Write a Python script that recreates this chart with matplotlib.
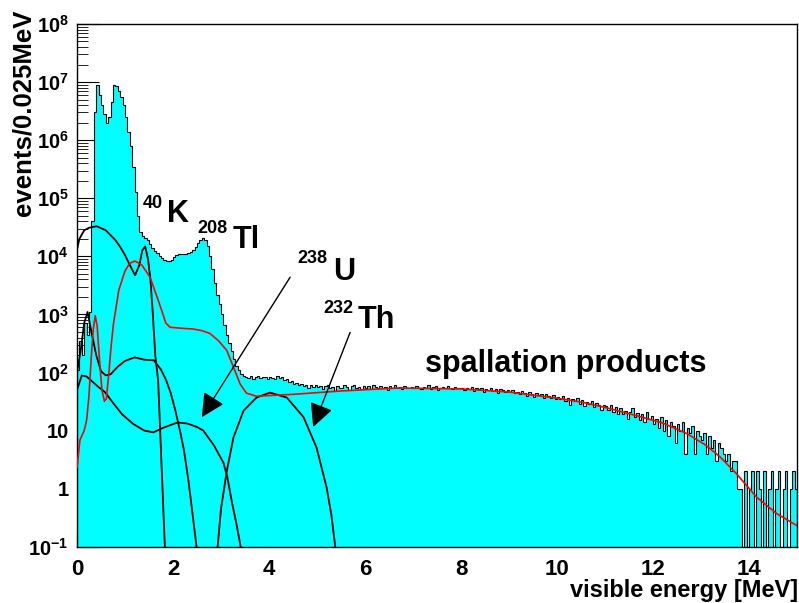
import numpy as np
import matplotlib as mpl
mpl.use('Agg')
import matplotlib.pyplot as plt
from matplotlib.ticker import FixedLocator, LogLocator, MultipleLocator, NullFormatter

plt.rcParams['font.family'] = ['Liberation Sans', 'DejaVu Sans']
plt.rcParams['font.weight'] = 'bold'
plt.rcParams['mathtext.fontset'] = 'custom'
plt.rcParams['mathtext.rm'] = 'Liberation Sans:bold'
plt.rcParams['mathtext.bf'] = 'Liberation Sans:bold'
plt.rcParams['mathtext.it'] = 'Liberation Sans:bold'

# histogram, 0.05 MeV bins
bin_width = 0.05
counts_0_3 = [
    110, 350, 200, 700, 450, 1100, 4.0e4, 3.0e6, 8.9e6, 6.0e6,
    4.0e6, 2.8e6, 2.0e6, 2.5e6, 4.5e6, 9.0e6, 8.5e6, 7.0e6, 5.5e6, 4.0e6,
    2.5e6, 1.4e6, 8.0e5, 3.5e5, 1.3e5, 5.0e4, 2.6e4, 2.2e4, 2.1e4, 1.9e4,
    1.6e4, 1.4e4, 1.25e4, 1.15e4, 1.0e4, 9.2e3, 8.6e3, 8.3e3, 8.3e3, 8.8e3,
    9.8e3, 1.05e4, 1.1e4, 1.1e4, 1.08e4, 1.1e4, 1.15e4, 1.2e4, 1.3e4, 1.45e4,
    1.7e4, 1.9e4, 2.05e4, 1.9e4, 1.5e4, 1.0e4, 6.0e3, 3.5e3, 2.2e3, 1.5e3,
]
counts_3_9 = [
    1000, 650, 450, 320, 230, 170, 130, 110, 95, 88, 84, 80, 86, 78, 83, 88, 79, 82, 85, 77,
    84, 80, 76, 86, 79, 82, 74, 78, 68, 72, 63, 66, 60, 64, 58, 61, 55, 60, 57, 62,
    56, 59, 52, 58, 61, 54, 57, 48, 59, 55, 53, 60, 56, 50, 58, 62, 54, 57, 52, 59,
    55, 58, 51, 60, 56, 53, 59, 54, 57, 49, 58, 55, 61, 53, 56, 52, 59, 55, 54, 57,
    53, 58, 55, 51, 57, 54, 60, 52, 56, 58, 50, 55, 57, 53, 59, 54, 51, 56, 55, 53,
    55, 50, 54, 52, 57, 48, 53, 51, 55, 46, 52, 50, 54, 48, 51, 45, 52, 49, 47, 50,
]
counts_9_15 = [
    46, 49, 44, 47, 42, 48, 45, 40, 46, 43, 38, 44, 41, 43, 37, 42, 40, 36, 41, 35,
    38, 35, 39, 32, 37, 28, 35, 32, 36, 29, 33, 26, 31, 29, 32, 25, 30, 27, 23, 28,
    26, 23, 27, 21, 25, 19, 24, 19, 22, 16, 21, 24, 17, 20, 15, 19, 14, 21, 16, 18,
    13, 16, 11, 17, 10, 15, 8, 14, 12, 6, 13, 10, 14, 4, 11, 9, 12, 4, 10, 8,
    7, 9, 4, 8, 5, 7, 3, 6, 5, 4, 3, 4, 2, 3, 3, 1, 1, 0, 2, 0,
    1, 2, 0, 2, 1, 0, 2, 0, 1, 2, 0, 1, 2, 0, 1, 2, 0, 1, 2, 1,
]

# fitted components (MeV, events)
k40_x = [0.0, 0.05, 0.15, 0.25, 0.41, 0.6, 0.8, 0.9, 1.0, 1.1, 1.21, 1.3, 1.36, 1.42,
         1.48, 1.53, 1.58, 1.63, 1.69, 1.72, 1.76, 1.80, 1.83]
k40_y = [1.3e4, 2.0e4, 2.8e4, 3.1e4, 3.3e4, 2.8e4, 1.9e4, 1.45e4, 1.05e4, 7.1e3, 4.7e3,
         7.1e3, 1.26e4, 1.48e4, 8.9e3, 4.0e3, 1.0e3, 200, 72, 18, 2.7, 0.41, 0.1]
comp_b_x = [0.0, 0.08, 0.15, 0.22, 0.3, 0.4, 0.5, 0.6, 0.7, 0.85, 1.0, 1.2, 1.4, 1.6,
            1.75, 1.85, 1.95, 2.05, 2.15, 2.23, 2.32, 2.41, 2.49]
comp_b_y = [100, 250, 710, 1100, 500, 200, 105, 89, 93, 126, 158, 182, 166, 162,
            112, 76, 45, 22, 9.5, 4.5, 1.4, 0.35, 0.1]
comp_c_x = [0.0, 0.1, 0.2, 0.3, 0.45, 0.58, 0.75, 0.94, 1.17, 1.4, 1.59, 1.8, 2.1,
            2.3, 2.5, 2.63, 2.85, 3.05, 3.13, 3.22, 3.32, 3.41]
comp_c_y = [50, 89, 85, 72, 56, 46, 30, 19, 13, 10, 9.3, 11.2, 13.8, 13.2, 11.5, 10,
            5.6, 2.8, 1.6, 0.63, 0.25, 0.1]
comp_d_x = [2.93, 3.0, 3.12, 3.26, 3.47, 3.74, 4.02, 4.37, 4.72, 4.99, 5.2, 5.3, 5.38]
comp_d_y = [0.1, 0.45, 2.0, 7.6, 22, 37, 45, 37, 17, 5.1, 1.05, 0.35, 0.1]
total_x = [0.0, 0.06, 0.15, 0.2, 0.25, 0.3, 0.34, 0.38, 0.42, 0.47, 0.52, 0.57, 0.61,
           0.66, 0.71, 0.76, 0.87, 1.0, 1.1, 1.21, 1.35, 1.52, 1.65, 1.76, 1.85, 1.94,
           2.2, 2.42, 2.6, 2.77, 2.95, 3.12, 3.26, 3.4, 3.53, 3.74, 4.5, 5.5, 6.7, 8.0,
           9.0, 10.0, 10.5, 11.0, 11.66, 12.2, 12.7, 13.1, 13.4, 13.74, 14.16, 14.58, 15.0]
total_y = [2.3, 6.8, 10, 15, 40, 200, 560, 950, 630, 160, 50, 32, 35, 90, 280, 690,
           2600, 5600, 7600, 8300, 7100, 4400, 2200, 1200, 710, 600, 575, 560, 525,
           470, 350, 240, 123, 63, 44, 39, 42, 48, 54, 52, 46, 36, 31, 25, 18, 13.5,
           8.9, 5.6, 3.5, 1.8, 0.71, 0.37, 0.23]

counts = np.array(counts_0_3 + counts_3_9 + counts_9_15, dtype=float)
edges = np.arange(len(counts) + 1) * bin_width

fig = plt.figure(figsize=(7.99, 6.03), dpi=100)
ax = fig.add_axes([77 / 799, 56.3 / 603, 720 / 799, 522.7 / 603])
ax.set_yscale('log')

ax.stairs(counts, edges, fill=True, color='#00ffff', baseline=1e-3, zorder=2)
ax.stairs(counts, edges, color='black', lw=0.8, baseline=1e-3, zorder=3)

for cx, cy in [(k40_x, k40_y), (comp_b_x, comp_b_y), (comp_c_x, comp_c_y), (comp_d_x, comp_d_y)]:
    ax.plot(cx, cy, color='black', lw=1.3, zorder=4)
ax.plot(total_x, total_y, color='red', lw=1.2, zorder=5)

ax.set_xlim(0, 15)
ax.set_ylim(0.1, 1e8)

ax.xaxis.set_major_locator(FixedLocator(range(0, 15, 2)))
ax.xaxis.set_minor_locator(MultipleLocator(0.5))
ax.set_xticklabels([str(v) for v in range(0, 15, 2)], fontsize=16, fontweight='bold')
ax.set_yticks([10.0 ** p for p in range(-1, 9)])
ylabels = [r'$\mathbf{10^{-1}}$', '1', '10'] + [r'$\mathbf{10^{%d}}$' % p for p in range(2, 9)]
ax.set_yticklabels(ylabels, fontsize=14.5, fontweight='bold')
ax.yaxis.set_minor_locator(LogLocator(base=10, subs=range(2, 10), numticks=20))
ax.yaxis.set_minor_formatter(NullFormatter())
ax.tick_params(which='both', direction='in', top=False, right=False)
ax.tick_params(axis='y', which='major', length=16, pad=6)
ax.tick_params(axis='y', which='minor', length=8)
ax.tick_params(axis='x', which='major', length=11, pad=9)
ax.tick_params(axis='x', which='minor', length=5.5)
for s in ax.spines.values():
    s.set_linewidth(1.0)

fig.text(24 / 799, 1 - 10 / 603, 'events/0.025MeV', rotation=90, ha='center', va='top',
         fontsize=18.5, fontweight='bold')
fig.text(798 / 799, 1 - 597 / 603, 'visible energy [MeV]', ha='right', va='baseline',
         fontsize=17, fontweight='bold')

# labels: superscript mass number + element
labels = [
    ('40', 1.375, 10 ** 4.83, 'K', 1.875, 10 ** 4.59),
    ('208', 2.5, 10 ** 4.40, 'Tl', 3.25, 10 ** 4.14),
    ('238', 4.6, 10 ** 3.88, 'U', 5.33, 10 ** 3.59),
    ('232', 5.125, 10 ** 3.02, 'Th', 5.85, 10 ** 2.76),
]
for sup, sx, sy, name, nx, ny in labels:
    ax.text(sx, sy, sup, fontsize=13, fontweight='bold', va='baseline', ha='left', zorder=6)
    ax.text(nx, ny, name, fontsize=22, fontweight='bold', va='baseline', ha='left', zorder=6)
ax.text(7.25, 10 ** 2.005, 'spallation products', fontsize=22, fontweight='bold',
        va='baseline', ha='left', zorder=6)

arrow = dict(arrowstyle='-|>,head_length=0.5,head_width=0.25', mutation_scale=29,
             color='black', lw=1.0, shrinkA=0, shrinkB=0)
ax.annotate('', xy=(2.6, 10 ** 1.23), xytext=(4.44, 10 ** 3.64), arrowprops=arrow, zorder=6)
ax.annotate('', xy=(4.92, 10 ** 1.06), xytext=(5.69, 10 ** 2.69), arrowprops=arrow, zorder=6)

fig.savefig('out.png', dpi=100)
